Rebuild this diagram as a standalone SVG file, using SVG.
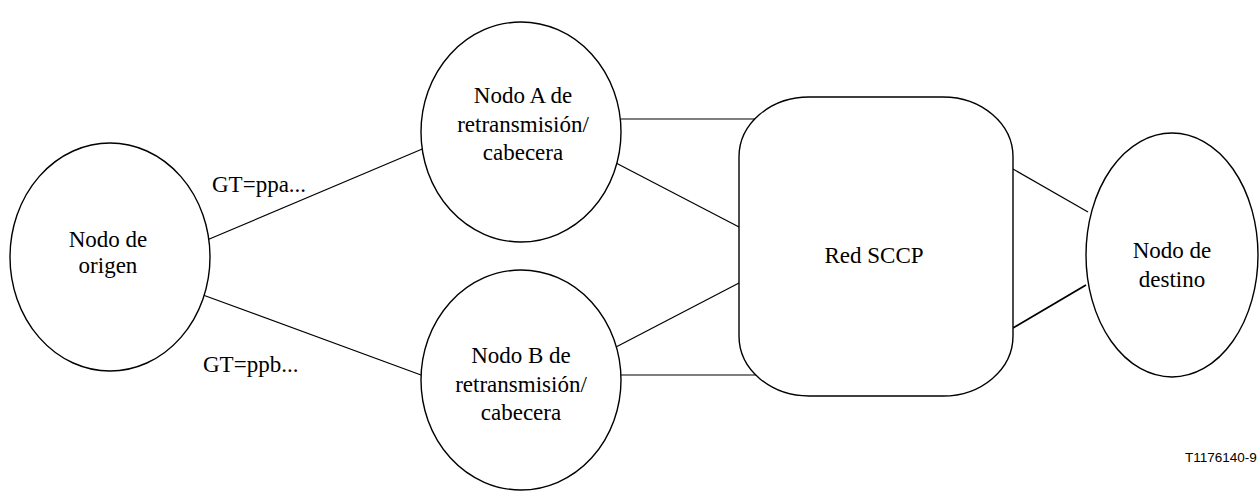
<svg xmlns="http://www.w3.org/2000/svg" width="1259" height="493" viewBox="0 0 1259 493">
<style>
.shape{fill:#fff;stroke:#000;stroke-width:1.4}
.conn line{stroke:#000;stroke-width:1.2}
.t{font-family:'Liberation Serif','DejaVu Serif',serif;font-size:23px;fill:#000;text-anchor:middle}
.lbl{font-family:'Liberation Serif','DejaVu Serif',serif;font-size:23px;fill:#000}
.ref{font-family:'Liberation Sans',Arial,sans-serif;font-size:13.5px;fill:#000}
</style>
<rect width="1259" height="493" fill="#fff"/>
<g id="connectors" class="conn">
<line x1="207" y1="240" x2="427" y2="147"/>
<line x1="203" y1="295" x2="421" y2="375"/>
<line x1="621" y1="119" x2="760" y2="119"/>
<line x1="616" y1="163" x2="739" y2="227"/>
<line x1="616" y1="347" x2="739" y2="283"/>
<line x1="621" y1="375" x2="760" y2="375"/>
<line x1="1013" y1="169" x2="1088" y2="212"/>
<line x1="1013" y1="328" x2="1086" y2="285" style="stroke-width:1.8"/>
</g>
<g id="origen">
<ellipse class="shape" cx="110" cy="257" rx="100" ry="114"/>
<text class="t" x="108" y="247">Nodo de</text>
<text class="t" x="108" y="273">origen</text>
</g>
<g id="nodoA">
<ellipse class="shape" cx="521" cy="132" rx="100" ry="110"/>
<text class="t" x="523" y="103">Nodo A de</text>
<text class="t" x="523" y="132">retransmisión/</text>
<text class="t" x="523" y="160">cabecera</text>
</g>
<g id="nodoB">
<ellipse class="shape" cx="521" cy="380" rx="100" ry="110"/>
<text class="t" x="521" y="363">Nodo B de</text>
<text class="t" x="521" y="392">retransmisión/</text>
<text class="t" x="521" y="420">cabecera</text>
</g>
<g id="redSCCP">
<rect class="shape" x="739" y="97" width="274" height="299" rx="70" ry="60"/>
<text class="t" x="874" y="263">Red SCCP</text>
</g>
<g id="destino">
<ellipse class="shape" cx="1172" cy="255" rx="86" ry="122"/>
<text class="t" x="1172" y="258">Nodo de</text>
<text class="t" x="1172" y="287">destino</text>
</g>
<g id="labels">
<text class="lbl" x="212" y="192">GT=ppa...</text>
<text class="lbl" x="203" y="372">GT=ppb...</text>
<text class="ref" x="1185" y="462">T1176140-9</text>
</g>
</svg>
